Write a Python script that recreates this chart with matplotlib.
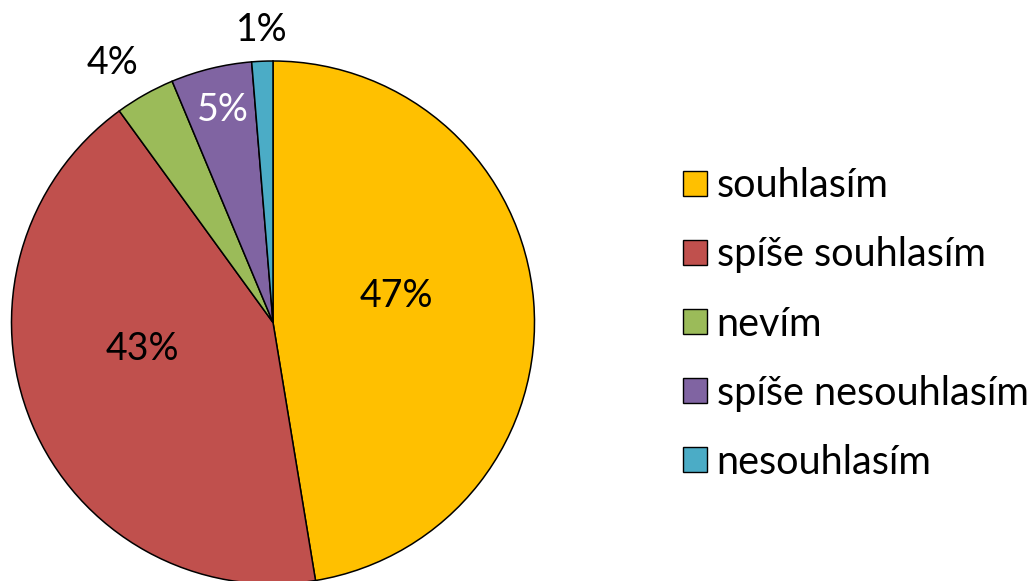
import matplotlib
matplotlib.use("Agg")
import matplotlib.pyplot as plt
from matplotlib.patches import Patch

# answers, clockwise from the top
categories = ["souhlasím", "spíše souhlasím", "nevím", "spíše nesouhlasím", "nesouhlasím"]
shares = [47.4, 42.6, 3.7, 5.0, 1.3]
colors = ["#FFC000", "#C0504D", "#9BBB59", "#8064A2", "#4BACC6"]

plt.rcParams["font.family"] = ["Lato", "DejaVu Sans"]

W, H = 1036, 581
fig = plt.figure(figsize=(W / 100, H / 100), dpi=100)

# pie centre (273, 322.5) px, radius 261.5 px
cx, cy, r = 273, 322.5, 261.5
ax = fig.add_axes([(cx - r) / W, (H - cy - r) / H, 2 * r / W, 2 * r / H])

wedges, texts, pcts = ax.pie(
    shares, colors=colors, startangle=90, counterclock=False,
    autopct="%.0f%%", pctdistance=0.55,
    wedgeprops=dict(edgecolor="black", linewidth=1.1),
    textprops=dict(fontsize=27, color="black"),
)
for w in wedges:
    w.set_clip_on(False)

# label spots as in the original
label_pos = [(0.470, 0.101), (-0.501, -0.102), (-0.612, 0.991), (-0.191, 0.814), (-0.044, 1.117)]
for t, p in zip(pcts, label_pos):
    t.set_position(p)
    t.set_clip_on(False)
pcts[3].set_color("white")

ax.set_xlim(-1, 1)
ax.set_ylim(-1, 1)
ax.set_aspect("auto")
ax.axis("off")

handles = [Patch(facecolor=c, edgecolor="black", linewidth=1.0) for c in colors]
fig.legend(handles, categories, loc="center left", bbox_to_anchor=(683 / W, 1 - 324 / H),
           frameon=False, fontsize=28.5, handlelength=0.6, handleheight=0.6,
           handletextpad=0.25, labelspacing=0.81, borderpad=0, borderaxespad=0)

fig.savefig("out.png", dpi=100)
